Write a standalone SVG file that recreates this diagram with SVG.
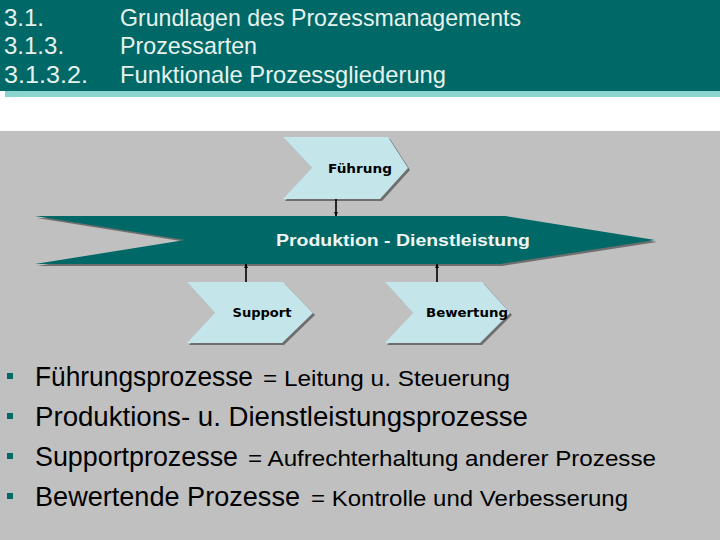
<svg xmlns="http://www.w3.org/2000/svg" width="720" height="540" viewBox="0 0 720 540">
<defs>
<style>
.hdr{font-family:"Liberation Sans","DejaVu Sans",sans-serif;font-size:24px;fill:#e6f2ee}
.lbl{font-family:"DejaVu Sans","Liberation Sans",sans-serif;font-size:13px;fill:#000;font-weight:bold}
.big{font-family:"Liberation Sans","DejaVu Sans",sans-serif;font-size:27px;fill:#000}
.sm{font-family:"Liberation Sans","DejaVu Sans",sans-serif;font-size:22px;fill:#000}
.chev{fill:#c4e6ea}
.shd{fill:#6e6e6e}
.con{stroke:#000;stroke-width:1.6;fill:none}
.bul{fill:#006a66}
</style>
<marker id="ah" viewBox="0 0 10 10" refX="10" refY="5" markerWidth="4" markerHeight="4" orient="auto" markerUnits="userSpaceOnUse">
<path d="M0,0 L10,5 L0,10 z" fill="#000"/>
</marker>
</defs>
<rect x="0" y="0" width="720" height="540" fill="#ffffff"/>
<rect x="0" y="131" width="720" height="409" fill="#c0c0c0"/>
<rect x="0" y="0" width="720" height="91" fill="#006866"/>
<rect x="5" y="91" width="715" height="6" fill="#8ad4d0"/>
<g id="header">
<text class="hdr" x="4" y="26">3.1.</text>
<text class="hdr" x="120" y="26" textLength="401" lengthAdjust="spacingAndGlyphs">Grundlagen des Prozessmanagements</text>
<text class="hdr" x="4" y="54">3.1.3.</text>
<text class="hdr" x="120" y="54" textLength="137" lengthAdjust="spacingAndGlyphs">Prozessarten</text>
<text class="hdr" x="4" y="83" textLength="84" lengthAdjust="spacingAndGlyphs">3.1.3.2.</text>
<text class="hdr" x="120" y="83" textLength="326" lengthAdjust="spacingAndGlyphs">Funktionale Prozessgliederung</text>
</g>
<g id="produktion">
<polygon class="shd" points="37,218 507,218 657,242 502,266 37,266 187,242"/>
<polygon fill="#006866" points="35,216 505,216 655,240 500,264 35,264 185,240"/>
<text x="403" y="246" text-anchor="middle" font-family="Liberation Sans,DejaVu Sans,sans-serif" font-size="16" font-weight="bold" fill="#eef6f4" textLength="254" lengthAdjust="spacingAndGlyphs">Produktion - Dienstleistung</text>
</g>
<g id="fuehrung">
<polygon class="shd" points="285,139 390,139 410,170 382,201 285,201 314,170"/>
<polygon class="chev" points="283,137 388,137 408,168 380,199 283,199 312,168"/>
<text class="lbl" x="360" y="173" text-anchor="middle" textLength="64" lengthAdjust="spacingAndGlyphs">Führung</text>
</g>
<g id="support">
<polygon class="shd" points="189,284 285,284 315,315 284,345 189,345 217,315"/>
<polygon class="chev" points="187,282 283,282 313,313 282,343 187,343 215,313"/>
<text class="lbl" x="262" y="317" text-anchor="middle" textLength="59" lengthAdjust="spacingAndGlyphs">Support</text>
</g>
<g id="bewertung">
<polygon class="shd" points="387,284 484,284 512,315 482,345 387,345 415,315"/>
<polygon class="chev" points="385,282 482,282 510,313 480,343 385,343 413,313"/>
<text class="lbl" x="467" y="317" text-anchor="middle" textLength="82" lengthAdjust="spacingAndGlyphs">Bewertung</text>
</g>
<g id="connectors">
<line class="con" x1="336" y1="199" x2="336" y2="216" marker-end="url(#ah)"/>
<line class="con" x1="246" y1="282" x2="246" y2="264" marker-end="url(#ah)"/>
<line class="con" x1="437" y1="282" x2="437" y2="264" marker-end="url(#ah)"/>
</g>
<g id="bullets">
<rect class="bul" x="7" y="373" width="6" height="6"/>
<rect class="bul" x="7" y="413" width="6" height="6"/>
<rect class="bul" x="7" y="453" width="6" height="6"/>
<rect class="bul" x="7" y="493" width="6" height="6"/>
<text class="big" x="35" y="386" textLength="218" lengthAdjust="spacingAndGlyphs">Führungsprozesse</text>
<text class="sm" x="263" y="386" textLength="247" lengthAdjust="spacingAndGlyphs">= Leitung u. Steuerung</text>
<text class="big" x="35" y="426" textLength="493" lengthAdjust="spacingAndGlyphs">Produktions- u. Dienstleistungsprozesse</text>
<text class="big" x="35" y="466" textLength="203" lengthAdjust="spacingAndGlyphs">Supportprozesse</text>
<text class="sm" x="248" y="466" textLength="408" lengthAdjust="spacingAndGlyphs">= Aufrechterhaltung anderer Prozesse</text>
<text class="big" x="35" y="506" textLength="265" lengthAdjust="spacingAndGlyphs">Bewertende Prozesse</text>
<text class="sm" x="311" y="506" textLength="317" lengthAdjust="spacingAndGlyphs">= Kontrolle und Verbesserung</text>
</g>
</svg>
